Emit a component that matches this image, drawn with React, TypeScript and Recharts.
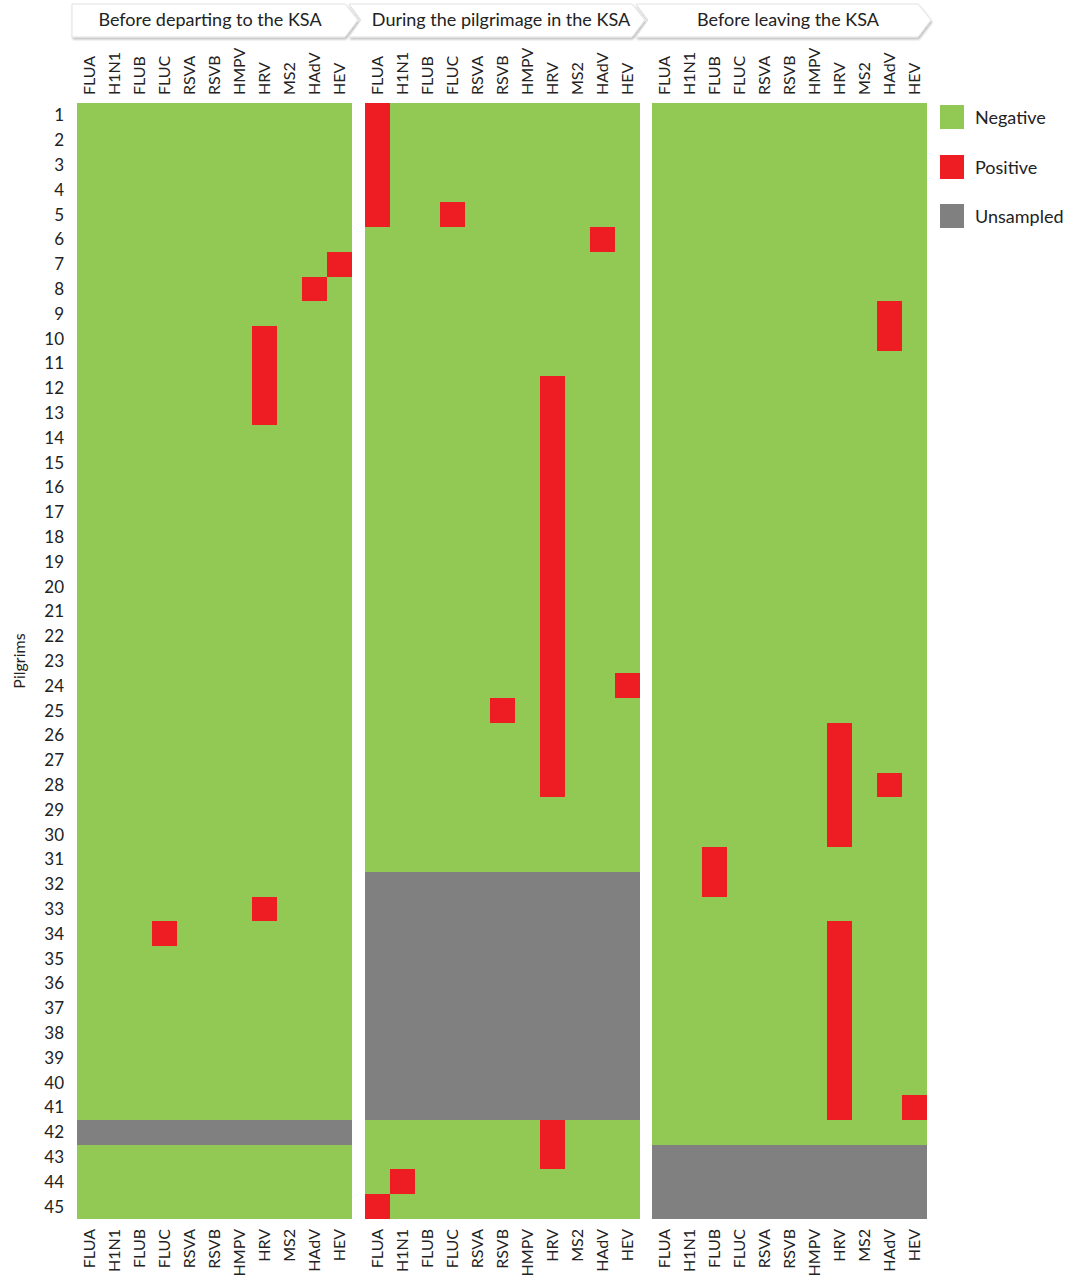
import React from 'react';
import { BarChart, Bar, XAxis, YAxis, Cell, Label } from 'recharts';

const viruses = ['FLUA', 'H1N1', 'FLUB', 'FLUC', 'RSVA', 'RSVB', 'HMPV', 'HRV', 'MS2', 'HAdV', 'HEV'];

const pilgrims = [
  1, 2, 3, 4, 5, 6, 7, 8, 9, 10, 11, 12, 13, 14, 15, 16, 17, 18, 19, 20, 21, 22, 23,
  24, 25, 26, 27, 28, 29, 30, 31, 32, 33, 34, 35, 36, 37, 38, 39, 40, 41, 42, 43, 44, 45,
];

const phaseTitles = ['Before departing to the KSA', 'During the pilgrimage in the KSA', 'Before leaving the KSA'];

// positive detections as [virus, pilgrim]
const departurePositive: [string, number][] = [
  ['HEV', 7], ['HAdV', 8],
  ['HRV', 10], ['HRV', 11], ['HRV', 12], ['HRV', 13],
  ['HRV', 33], ['FLUC', 34],
];
const departureUnsampled = [42];

const pilgrimagePositive: [string, number][] = [
  ['FLUA', 1], ['FLUA', 2], ['FLUA', 3], ['FLUA', 4], ['FLUA', 5],
  ['FLUC', 5], ['HAdV', 6],
  ['HRV', 12], ['HRV', 13], ['HRV', 14], ['HRV', 15], ['HRV', 16], ['HRV', 17],
  ['HRV', 18], ['HRV', 19], ['HRV', 20], ['HRV', 21], ['HRV', 22], ['HRV', 23],
  ['HRV', 24], ['HRV', 25], ['HRV', 26], ['HRV', 27], ['HRV', 28],
  ['HEV', 24], ['RSVB', 25],
  ['HRV', 42], ['HRV', 43], ['H1N1', 44], ['FLUA', 45],
];
const pilgrimageUnsampled = [32, 33, 34, 35, 36, 37, 38, 39, 40, 41];

const leavingPositive: [string, number][] = [
  ['HAdV', 9], ['HAdV', 10],
  ['HRV', 26], ['HRV', 27], ['HRV', 28], ['HRV', 29], ['HRV', 30],
  ['HAdV', 28], ['FLUB', 31], ['FLUB', 32],
  ['HRV', 34], ['HRV', 35], ['HRV', 36], ['HRV', 37], ['HRV', 38], ['HRV', 39], ['HRV', 40], ['HRV', 41],
  ['HEV', 41],
];
const leavingUnsampled = [43, 44, 45];

const colors: Record<string, string> = {
  negative: '#92c955',
  positive: '#ee1d24',
  unsampled: '#808080',
};

const legendItems = [
  { key: 'negative', label: 'Negative' },
  { key: 'positive', label: 'Positive' },
  { key: 'unsampled', label: 'Unsampled' },
];

const font = 'Lato, "Open Sans", sans-serif';
const textColor = '#222';

// one row per virus, one stacked unit per pilgrim
function buildRows(positive: [string, number][], unsampled: number[]) {
  return viruses.map((v) => {
    const row: any = { virus: v };
    pilgrims.forEach((p) => {
      row[`p${p}`] = 1;
      row[`s${p}`] = unsampled.includes(p)
        ? 'unsampled'
        : positive.some(([pv, pp]) => pv === v && pp === p)
          ? 'positive'
          : 'negative';
    });
    return row;
  });
}

const VirusTick = ({ x, y, payload, side }: any) => (
  <text
    x={x}
    y={y}
    transform={`rotate(-90, ${x}, ${y})`}
    dy="0.36em"
    textAnchor={side === 'top' ? 'start' : 'end'}
    fontSize={16}
    fontFamily={font}
    fill={textColor}
  >
    {payload.value}
  </text>
);

function Panel({ rows, left, width, margin, showY }: any) {
  return (
    <div style={{ position: 'absolute', left, top: 0 }}>
      <BarChart width={width} height={1275} data={rows} margin={margin} barCategoryGap={0} barGap={0}>
        <XAxis
          xAxisId="top"
          dataKey="virus"
          orientation="top"
          height={63}
          interval={0}
          axisLine={false}
          tickLine={false}
          tickMargin={2}
          tick={(props: any) => <VirusTick {...props} side="top" />}
        />
        <XAxis
          dataKey="virus"
          orientation="bottom"
          height={56}
          interval={0}
          axisLine={false}
          tickLine={false}
          tickMargin={4}
          tick={(props: any) => <VirusTick {...props} side="bottom" />}
        />
        <YAxis
          type="number"
          domain={[0, 45]}
          reversed
          hide={!showY}
          width={40}
          ticks={pilgrims.map((p) => p - 0.5)}
          tickFormatter={(v: number) => String(v + 0.5)}
          interval={0}
          axisLine={false}
          tickLine={false}
          tickMargin={7}
          tick={{ fontSize: 17, fill: textColor, fontFamily: font }}
        >
          {showY && (
            <Label
              value="Pilgrims"
              angle={-90}
              position="insideLeft"
              offset={-18}
              style={{ textAnchor: 'middle', fontSize: 16, fill: textColor, fontFamily: font }}
            />
          )}
        </YAxis>
        {pilgrims.map((p) => (
          <Bar key={p} dataKey={`p${p}`} stackId="grid" isAnimationActive={false}>
            {rows.map((r: any) => (
              <Cell key={r.virus} fill={colors[r[`s${p}`]]} shapeRendering="crispEdges" />
            ))}
          </Bar>
        ))}
      </BarChart>
    </div>
  );
}

// chevron banners across the top
const Banners = () => {
  const shapes = [
    { pts: '72,4 345,4 358,20 345,37 72,37', cx: 210 },
    { pts: '349,4 632,4 645,20 632,37 349,37 361,20', cx: 501 },
    { pts: '636,4 918,4 931,20 918,37 636,37 648,20', cx: 788 },
  ];
  return (
    <svg width={1070} height={48} style={{ position: 'absolute', left: 0, top: 0 }}>
      <defs>
        <filter id="bannerShadow" x="-5%" y="-30%" width="110%" height="170%">
          <feDropShadow dx="1" dy="2" stdDeviation="1.2" floodColor="#000" floodOpacity="0.25" />
        </filter>
      </defs>
      {shapes.map((s, i) => (
        <g key={i}>
          <polygon points={s.pts} fill="#fff" stroke="#e2e2e2" strokeWidth={1} filter="url(#bannerShadow)" />
          <text x={s.cx} y={26} textAnchor="middle" fontSize={18} fontFamily={font} fill={textColor}>
            {phaseTitles[i]}
          </text>
        </g>
      ))}
    </svg>
  );
};

const Legend = () => (
  <div style={{ position: 'absolute', left: 940, top: 105 }}>
    {legendItems.map((item) => (
      <div key={item.key} style={{ display: 'flex', alignItems: 'center', height: 24, marginBottom: 25.5 }}>
        <div style={{ width: 24, height: 24, background: colors[item.key] }} />
        <span style={{ marginLeft: 11, fontSize: 18, fontFamily: font, color: textColor }}>{item.label}</span>
      </div>
    ))}
  </div>
);

export default function App() {
  const departureRows = buildRows(departurePositive, departureUnsampled);
  const pilgrimageRows = buildRows(pilgrimagePositive, pilgrimageUnsampled);
  const leavingRows = buildRows(leavingPositive, leavingUnsampled);

  return (
    <div style={{ position: 'absolute', left: 0, top: 0, width: 1070, height: 1275, background: '#fff', overflow: 'hidden' }}>
      <Panel rows={departureRows} left={0} width={360} margin={{ top: 40, right: 8, bottom: 0, left: 37 }} showY />
      <Panel rows={pilgrimageRows} left={360} width={290} margin={{ top: 40, right: 10, bottom: 0, left: 5 }} />
      <Panel rows={leavingRows} left={645} width={290} margin={{ top: 40, right: 8, bottom: 0, left: 7 }} />
      <Banners />
      <Legend />
    </div>
  );
}
